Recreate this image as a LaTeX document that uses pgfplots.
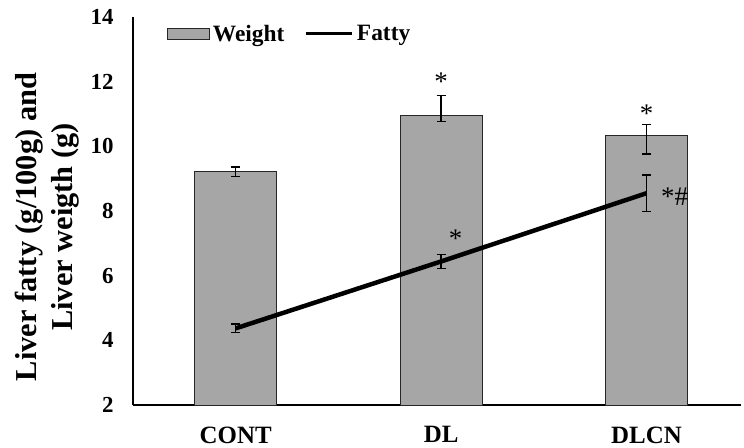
\documentclass[border=0pt]{standalone}
\usepackage{pgfplots}
\pgfplotsset{compat=1.18}
\usepackage{fontspec}
\setmainfont{Liberation Serif}
\definecolor{bargray}{RGB}{166,166,166}
\begin{document}
\begin{tikzpicture}
\begin{axis}[
  scale only axis, width=608bp, height=388bp,
  at={(0,0)}, anchor=south west,
  xmin=-0.5, xmax=2.46, ymin=2, ymax=14,
  axis lines*=left,
  axis line style={line width=1.2pt, black},
  xtick={0,1,2}, xticklabels={CONT,DL,DLCN},
  ytick={2,4,6,8,10,12,14},
  major tick length=0pt,
  /pgf/number format/assume math mode=true,
  yticklabel style={font=\bfseries\fontsize{23}{23}\selectfont, xshift=-16bp},
  xticklabel style={font=\bfseries\fontsize{25}{25}\selectfont, yshift=-18bp},
  ylabel={Liver fatty (g/100g) and\\Liver weigth (g)},
  ylabel style={align=center, font=\bfseries\fontsize{30.5}{36}\selectfont, yshift=5bp, xshift=-16bp},
  clip=false,
  legend columns=2,
  legend style={at={(0.056,0.985)}, anchor=north west, draw=none, fill=none,
    inner sep=0pt, outer sep=0pt,
    font=\bfseries\fontsize{23.5}{23.5}\selectfont,
    /tikz/every odd column/.append style={column sep=1bp},
    /tikz/every even column/.append style={column sep=18bp}},
]
\addplot[ybar, bar width=0.4, fill=bargray, draw=black!85, line width=0.9pt,
  legend image code/.code={\draw[fill=bargray, draw=black!85, line width=0.9pt] (0bp,-5.5bp) rectangle (42bp,5.5bp);},
  error bars/.cd, y dir=both, y explicit, error bar style={line width=1.3pt, black}, error mark options={rotate=90, mark size=4.5bp, line width=1.5pt}]
  table[x=x, y=y, y error plus=ep, y error minus=em] {
x y ep em
0 9.21 0.15 0.15
1 10.95 0.62 0.18
2 10.33 0.34 0.57
};
\addlegendentry{Weight}
\addplot[black, line width=4.5pt, mark=none,
  legend image code/.code={\draw[black, line width=3.5pt] (0bp,0bp) -- (46bp,0bp);},
  error bars/.cd, y dir=both, y explicit, error bar style={line width=1.3pt, black}, error mark options={rotate=90, mark size=4.5bp, line width=1.5pt}]
  table[x=x, y=y, y error=e] {
x y e
0 4.37 0.13
1 6.44 0.22
2 8.55 0.57
};
\addlegendentry{Fatty}
\node[font=\fontsize{27}{27}\selectfont] at (axis cs:1,12.0) {*};
\node[font=\fontsize{27}{27}\selectfont] at (axis cs:2,11.0) {*};
\node[font=\fontsize{27}{27}\selectfont] at (axis cs:1.07,7.15) {*};
\node[font=\fontsize{27}{27}\selectfont, anchor=west, inner sep=0pt] at (axis cs:2.07,8.45) {*\#};
\end{axis}
\pgfresetboundingbox
\path (-133bp,-43bp) rectangle (611bp,405bp);
\end{tikzpicture}
\end{document}
